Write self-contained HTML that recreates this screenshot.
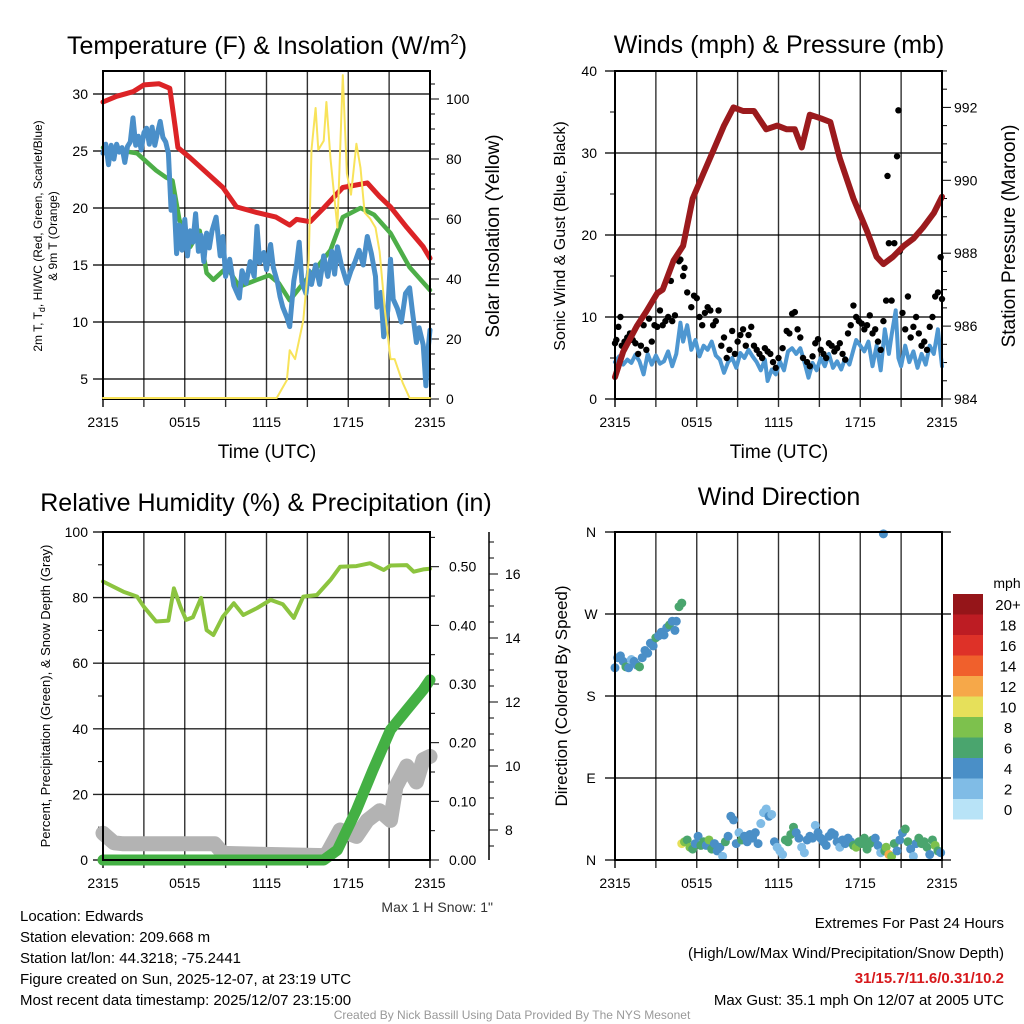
<!DOCTYPE html>
<html><head><meta charset="utf-8"><style>
html,body{margin:0;padding:0;background:#fff;}
svg{display:block;font-family:"Liberation Sans",sans-serif;}
</style></head><body>
<svg id="s" width="1024" height="1024" viewBox="0 0 1024 1024">
<rect width="1024" height="1024" fill="#fff"/>
<g id="g1"></g>
<g id="g2"></g>
<g id="g3"></g>
<g id="g4"></g>
<g font-size="15" fill="#000">
<text x="20" y="921">Location: Edwards</text>
<text x="20" y="942">Station elevation: 209.668 m</text>
<text x="20" y="963">Station lat/lon: 44.3218; -75.2441</text>
<text x="20" y="984">Figure created on Sun, 2025-12-07, at 23:19 UTC</text>
<text x="20" y="1005">Most recent data timestamp: 2025/12/07 23:15:00</text>
</g>
<g font-size="15" text-anchor="end">
<text x="1004" y="928">Extremes For Past 24 Hours</text>
<text x="1004" y="958">(High/Low/Max Wind/Precipitation/Snow Depth)</text>
<text x="1004" y="983" fill="#d7191c" font-weight="bold">31/15.7/11.6/0.31/10.2</text>
<text x="1004" y="1005">Max Gust: 35.1 mph On 12/07 at 2005 UTC</text>
</g>
<text x="512" y="1019" font-size="12" fill="#999" text-anchor="middle">Created By Nick Bassill Using Data Provided By The NYS Mesonet</text>
</svg>
<script>
// ---- Temperature panel data ----
const redH=[0,1,2.2,3,4.1,4.9,5.3,5.5,6.4,7.6,8.8,9.8,11.3,12.7,13.7,14.2,15.2,16.2,17.6,19.4,20.3,21.1,22.3,23.5,24];
const redV=[29.3,29.8,30.2,30.8,30.9,30.5,27.1,25.3,24.4,23.1,21.8,20.1,19.6,19.2,18.5,19.0,18.8,20.0,21.8,22.2,21.0,20.1,18.3,16.6,15.6];
const grnH=[0,2.5,3.9,4.6,5.1,5.6,6.4,7.1,7.6,8.1,9.1,10.0,11.3,12.2,12.9,13.7,14.7,15.7,16.7,17.6,18.9,19.9,21.1,22.5,24];
const grnV=[25.3,24.8,23.3,22.7,22.4,19.0,16.6,18.0,14.3,13.7,14.8,13.1,13.7,14.1,13.4,11.9,13.4,14.8,16.3,19.2,20.0,19.4,17.8,14.8,12.8];
const bluH=[0,0.2,0.4,0.6,0.8,1.0,1.2,1.4,1.6,1.8,2.0,2.2,2.4,2.6,2.8,3.0,3.2,3.4,3.6,3.8,4.0,4.2,4.4,4.6,4.8,5.0,5.2,5.4,5.6,5.8,6.0,6.2,6.4,6.6,6.8,7.0,7.2,7.4,7.6,7.8,8.0,8.3,8.6,8.8,9.0,9.3,9.6,10.0,10.2,10.5,10.8,11.1,11.3,11.5,11.8,12.0,12.3,12.5,12.8,13.0,13.2,13.5,13.7,14.0,14.2,14.4,14.6,14.9,15.1,15.3,15.6,15.9,16.2,16.5,16.8,17.0,17.2,17.5,17.9,18.2,18.5,18.8,19.1,19.4,19.7,20.0,20.1,20.4,20.6,20.9,21.1,21.3,21.6,21.9,22.2,22.5,22.7,23.0,23.2,23.5,23.7,23.85,24.0];
const bluV=[24.8,25.6,23.8,25.5,24.3,25.6,24.9,25.3,24.0,25.4,25.8,27.9,25.5,26.3,25.1,26.6,27.0,25.6,27.1,25.5,26.6,27.6,26.2,25.8,24.8,19.8,21.0,16.0,18.5,16.3,19.0,15.8,18.0,17.0,19.5,16.2,17.6,15.3,17.8,16.5,18.0,19.2,15.8,17.5,14.0,15.5,13.2,12.1,14.5,13.4,15.3,14.0,18.4,15.2,16.1,14.6,16.8,14.8,13.5,12.2,11.3,10.4,9.6,13.6,15.0,17.0,13.5,12.5,14.5,13.3,15.0,13.3,15.8,14.0,16.2,14.2,16.6,15.0,13.4,14.5,15.3,16.3,15.0,17.5,16.0,14.0,11.3,12.6,8.7,11.0,15.5,12.0,11.2,10.0,12.5,13.0,11.0,8.2,9.5,8.0,4.4,7.5,9.3];
const insH=[0,12.75,13.5,13.7,14.1,14.7,15.1,15.3,15.6,15.8,16.2,16.4,16.7,17.2,17.6,17.9,18.2,18.6,18.9,19.2,19.6,20.0,20.3,20.7,21.1,21.4,22.0,22.5,24];
const insV=[0,0,6,16,13,26,46,83,97,83,86,99,80,57,108,75,68,85,77,62,60,57,49,29,13,13,5,0,0];
const tempTicks=[5,10,15,20,25,30];
const insTicks=[0,20,40,60,80,100];
const timeLabels=["2315","0515","1115","1715","2315"];
// ---- Wind panel data ----
const presH=[0,0.6,1.6,2.3,3.1,3.5,4.3,5.0,5.7,6.5,7.2,8.0,8.7,9.4,10.2,11.1,11.9,12.6,13.2,13.7,14.3,15.1,15.8,16.5,17.5,18.5,19.2,19.7,20.4,21.2,21.9,22.6,23.4,24];
const presV=[984.6,985.3,986.0,986.4,986.9,987.0,987.8,988.2,989.5,990.2,990.8,991.5,992.0,991.9,991.9,991.4,991.5,991.4,991.4,990.9,991.8,991.7,991.6,990.6,989.5,988.6,987.9,987.7,987.9,988.2,988.4,988.7,989.1,989.55];
const sonH=[0,0.3,0.6,0.9,1.2,1.5,1.8,2.1,2.4,2.7,3.0,3.3,3.6,3.9,4.2,4.5,4.8,5.0,5.3,5.6,5.9,6.2,6.5,6.8,7.1,7.4,7.7,8.0,8.3,8.6,8.9,9.2,9.5,9.8,10.1,10.4,10.7,11.0,11.2,11.5,11.8,12.1,12.4,12.7,13.0,13.3,13.6,13.9,14.2,14.5,14.8,15.1,15.4,15.7,16.0,16.3,16.6,16.9,17.2,17.5,17.7,18.0,18.3,18.6,18.9,19.2,19.5,19.8,20.1,20.3,20.6,20.8,21.0,21.3,21.6,21.9,22.2,22.5,22.8,23.1,23.4,23.7,24.0];
const sonV=[4.5,5.2,4.2,4.8,4.4,5.4,4.6,3.0,5.5,4.2,5.3,4.3,4.6,5.8,4.0,5.5,9.3,7.0,9.0,6.0,7.2,5.2,6.5,6.0,7.0,5.3,4.8,3.2,4.5,5.0,3.8,5.6,5.0,6.0,5.2,4.5,3.5,4.8,2.2,3.6,3.0,4.6,3.5,5.8,6.2,5.5,6.2,4.5,2.6,4.4,3.5,5.0,4.0,5.5,3.8,4.6,3.6,5.0,4.2,6.0,7.2,6.5,5.8,7.0,4.0,6.5,3.5,8.5,5.5,7.8,10.8,5.0,4.0,6.5,4.5,5.8,3.8,5.5,4.2,6.5,5.5,8.5,4.0];
const gustH=[0,0.1,0.25,0.4,0.5,0.7,0.9,1.1,1.3,1.5,1.7,1.9,2.1,2.3,2.5,2.7,2.9,3.1,3.3,3.5,3.7,3.9,4.1,4.2,4.4,4.7,4.8,5.0,5.1,5.3,5.6,5.8,6.0,6.2,6.4,6.6,6.8,7.0,7.2,7.4,7.6,7.8,8.0,8.2,8.4,8.6,8.8,9.0,9.2,9.4,9.6,9.8,10.0,10.2,10.4,10.6,10.8,11.0,11.2,11.4,11.6,11.8,12.0,12.3,12.6,12.8,13.0,13.2,13.4,13.6,13.8,14.1,14.3,14.5,14.7,14.9,15.1,15.3,15.5,15.7,15.9,16.1,16.3,16.5,16.7,16.9,17.1,17.3,17.5,17.7,17.9,18.1,18.3,18.5,18.7,18.9,19.1,19.3,19.5,19.7,19.9,20.0,20.1,20.3,20.5,20.7,20.8,20.9,21.1,21.3,21.5,21.7,21.9,22.1,22.3,22.5,22.7,22.9,23.1,23.3,23.5,23.7,23.9,24.0];
const gustV=[6.8,7.2,8.8,10.0,6.5,7.0,7.5,8.0,7.2,6.8,5.5,6.5,9.0,6.0,9.8,7.0,9.0,8.8,10.8,9.0,9.5,10.0,14.4,9.5,10.2,16.8,17.0,15.0,16.0,13.0,11.2,12.6,12.3,10.0,9.0,10.5,11.2,10.8,9.0,9.5,10.8,6.5,7.5,5.0,6.0,8.3,5.5,7.0,7.8,8.5,6.5,7.8,8.8,6.5,6.0,5.5,5.0,6.2,5.8,5.5,4.5,3.8,5.0,6.2,8.3,8.0,10.4,10.6,8.5,7.5,5.0,4.5,4.0,5.2,6.8,7.3,6.0,5.5,5.0,6.8,6.5,5.8,6.2,6.8,5.5,4.8,8.0,9.0,11.4,10.0,9.5,9.2,8.5,9.0,10.2,8.0,8.5,7.0,6.0,9.5,12.0,27.2,19.0,12.0,19.0,29.6,35.2,18.0,10.5,8.5,12.5,7.5,8.8,10.0,8.0,6.5,7.0,6.0,8.8,10.0,12.5,13.0,17.3,12.2,9.8,6.8];
const windTicks=[0,10,20,30,40];
const presTicks=[984,986,988,990,992];
// ---- Humidity panel data ----
const rhH=[0,1.5,2.5,3.0,3.9,4.8,5.2,5.7,6.1,6.6,7.2,7.6,8.1,8.8,9.6,10.3,11.3,12.3,13.2,14.0,14.7,15.7,16.7,17.4,18.6,19.6,20.6,21.1,22.3,22.8,23.5,24];
const rhV=[84.9,81.8,80.3,77.2,72.7,73.0,82.8,77.0,73.2,74.0,79.9,70.1,68.6,74.2,78.3,74.7,76.8,79.3,78.0,73.8,80.3,80.8,85.4,89.4,89.6,90.5,88.4,89.8,89.9,87.9,88.6,88.8];
const prH=[0,16.2,17.2,18.6,19.8,21.1,22.3,23.5,24];
const prV=[0,0,0.017,0.085,0.153,0.222,0.256,0.29,0.307];
const snH=[0,0.8,1.5,8.2,8.8,16.2,16.5,17.4,18.6,19.4,20.3,21.1,21.5,22.3,23.0,23.5,24];
const snV=[7.9,7.6,7.57,7.57,7.27,7.2,7.3,8.0,7.8,8.3,8.6,8.3,9.35,10.0,9.5,10.2,10.3];
const rhTicks=[0,20,40,60,80,100];
const prTicks=["0.00","0.10","0.20","0.30","0.40","0.50"];
const snTicks=[8,10,12,14,16];
// ---- Direction panel data ----
const dirH=[0,0.2,0.4,0.6,0.8,1.0,1.2,1.4,1.6,1.8,2.0,2.2,2.4,2.6,2.8,3.0,3.2,3.4,3.6,3.8,4.0,4.2,4.4,4.5,4.7,4.9,4.9,5.1,5.3,5.5,5.7,5.9,6.1,6.3,6.5,6.7,6.9,7.1,7.3,7.5,7.7,7.9,8.1,8.3,8.5,8.7,8.9,9.1,9.3,9.5,9.7,9.9,10.1,10.3,10.5,10.7,10.9,11.1,11.3,11.5,11.7,11.9,12.1,12.3,12.5,12.7,12.9,13.1,13.3,13.5,13.7,13.9,14.1,14.3,14.5,14.7,14.9,15.1,15.3,15.5,15.7,15.9,16.1,16.3,16.5,16.7,16.9,17.1,17.3,17.5,17.7,17.9,18.1,18.3,18.5,18.7,18.9,19.1,19.3,19.5,19.7,19.8,19.9,20.1,20.3,20.5,20.7,20.9,21.1,21.3,21.5,21.7,21.9,22.1,22.3,22.5,22.7,22.9,23.1,23.3,23.5,23.7,23.9];
const dirDeg=[211,222,224,218,212,211,220,218,214,212,222,230,227,238,235,244,246,250,247,255,258,262,252,262,278,282,18,20,22,14,12,18,26,16,20,16,22,12,18,10,14,4,20,26,48,44,18,30,22,26,20,28,24,30,18,40,52,56,48,50,20,14,10,6,22,20,28,36,30,24,14,8,22,26,24,38,30,24,20,16,26,30,28,20,14,22,18,24,20,16,14,20,18,24,12,18,22,24,16,8,358,10,14,6,4,18,10,22,30,34,20,12,4,18,24,18,20,14,6,22,16,10,8];
const dirSpd=[4,4,5,4,7,4,3,4,4,7,4,5,4,5,4,6,4,5,4,5,7,4,5,4,6,7,10,8,7,8,6,5,4,7,6,5,8,6,4,5,4,2,6,4,4,4,4,3,7,5,4,5,4,5,4,3,2,3,4,3,4,2,2,2,7,7,6,7,4,5,3,2,5,4,4,3,4,4,5,4,4,4,4,4,3,4,4,4,4,6,8,7,6,7,6,6,7,5,4,3,5,6,9,12,8,7,4,5,4,6,7,4,3,4,6,6,7,6,4,7,8,6,4];
const cbLabels=["20+","18","16","14","12","10","8","6","4","2","0"];
const cbColors=["#951519","#bd1c23","#de3128","#f0602c","#f6a849","#e6e05a","#7dc14d","#4aa56e","#4a8fc7","#80bce6","#b8e3f7"];

const NS="http://www.w3.org/2000/svg";
function mk(parent,tag,attrs){const e=document.createElementNS(NS,tag);for(const k in attrs)e.setAttribute(k,attrs[k]);parent.appendChild(e);return e;}
function txt(parent,x,y,s,size,anchor,extra){const e=mk(parent,"text",Object.assign({x:x,y:y,"font-size":size,"text-anchor":anchor||"start"},extra||{}));e.textContent=s;return e;}
function rtxt(parent,x,y,s,size){const e=mk(parent,"text",{x:0,y:0,"font-size":size,"text-anchor":"middle",transform:"translate("+x+","+y+") rotate(-90)"});e.textContent=s;return e;}

function frame(g,L,R,T,B){
  const xs=t=>L+t/24*(R-L);
  for(let i=1;i<8;i++){const l=mk(g,"line",{x1:xs(i*3),x2:xs(i*3),y1:T,y2:B+8,stroke:"#000","stroke-width":1.4,opacity:0.8});
    }
  for(let i=0;i<5;i++){const x=xs(i*6);const lb=txt(g,x,B+28,timeLabels[i],14,"middle");
    }
  mk(g,"line",{x1:L,x2:L,y1:T,y2:B+8,stroke:"#000","stroke-width":1.4});
  mk(g,"line",{x1:R,x2:R,y1:T,y2:B+8,stroke:"#000","stroke-width":1.4});
  return xs;
}
function poly(g,H,V,xs,ys,color,w,name){
  let d="";for(let i=0;i<H.length;i++)d+=(i?"L":"M")+xs(H[i]).toFixed(1)+","+ys(V[i]).toFixed(1);
  const p=mk(g,"path",{d:d,fill:"none",stroke:color,"stroke-width":w,"stroke-linejoin":"round","stroke-linecap":"round"});
  return p;
}
function border(g,L,R,T,B){const r=mk(g,"rect",{x:L,y:T,width:R-L,height:B-T,fill:"none",stroke:"#000","stroke-width":2});
  }

// Panel 1
(function(){
  const g=document.getElementById("g1");const L=103,R=430,T=71,B=399;
  const xs=frame(g,L,R,T,B);
  const ys=t=>379-(t-5)*11.4;const yi=v=>398-v*2.99;
  tempTicks.forEach(t=>{mk(g,"line",{x1:L-10,x2:R,y1:ys(t),y2:ys(t),stroke:"#000","stroke-width":1.4,opacity:0.85});
    const lb=txt(g,L-15,ys(t)+5,String(t),14,"end");});
  for(let v=0;v<=105;v+=5){mk(g,"line",{x1:R,x2:R+(v%20?5:9),y1:399-v*3,y2:399-v*3,stroke:"#000","stroke-width":1});}
  insTicks.forEach(v=>{const lb=txt(g,R+16,399-v*3+5,String(v),14,"start");});
  poly(g,grnH,grnV,xs,ys,"#4dae48",4.5,"dewpoint-line");
  poly(g,bluH,bluV,xs,ys,"#4a8fc9",5,"windchill-line");
  poly(g,redH,redV,xs,ys,"#dc2326",5,"temperature-line");
  border(g,L,R,T,B);
  poly(g,insH,insV,xs,yi,"#f8e35a",2,"insolation-line");
  const t=txt(g,267,54,"Temperature (F) & Insolation (W/m",25,"middle");
  const sp=mk(t,"tspan",{dy:-10,"font-size":15});sp.textContent="2";const sp2=mk(t,"tspan",{dy:10});sp2.textContent=")";
  const xt=txt(g,267,458,"Time (UTC)",19,"middle");
  const a=rtxt(g,42,236,"2m T, T",12);
  const s1=mk(a,"tspan",{"font-size":9,dy:3});s1.textContent="d";const s2=mk(a,"tspan",{dy:-3});s2.textContent=", HI/WC (Red, Green, Scarlet/Blue)";
  const a2=rtxt(g,57,236,"& 9m T (Orange)",12);
  const rt=rtxt(g,499,236,"Solar Insolation (Yellow)",19);
})();

// Panel 2
(function(){
  const g=document.getElementById("g2");const L=615,R=942,T=71,B=399;
  const xs=frame(g,L,R,T,B);
  const yw=v=>399-v*8.2;const yp=p=>399-(p-984)*36.45;
  windTicks.forEach(t=>{mk(g,"line",{x1:L-10,x2:R,y1:yw(t),y2:yw(t),stroke:"#000","stroke-width":1.4,opacity:0.85});
    const lb=txt(g,L-18,yw(t)+5,String(t),14,"end");});
  for(let v=5;v<40;v+=10)mk(g,"line",{x1:L-5,x2:L,y1:yw(v),y2:yw(v),stroke:"#000"});
  for(let p=984;p<=993;p+=0.5)mk(g,"line",{x1:R,x2:R+(p%2?5:9),y1:yp(p),y2:yp(p),stroke:"#000"});
  presTicks.forEach(p=>{const lb=txt(g,R+12,yp(p)+5,String(p),14,"start");});
  poly(g,sonH,sonV,xs,yw,"#4e97d1",4,"sonic-wind-line");
  for(let i=0;i<gustH.length;i++){const c=mk(g,"circle",{cx:xs(gustH[i]),cy:yw(gustV[i]),r:3.2,fill:"#000"});
    }
  poly(g,presH,presV,xs,yp,"#9b1a1d",6,"pressure-line");
  border(g,L,R,T,B);
  const t=txt(g,779,53,"Winds (mph) & Pressure (mb)",25,"middle");
  const xt=txt(g,779,458,"Time (UTC)",19,"middle");
  const a=rtxt(g,565,236,"Sonic Wind & Gust (Blue, Black)",16);
  const rt=rtxt(g,1015,236,"Station Pressure (Maroon)",19);
})();

// Panel 3
(function(){
  const g=document.getElementById("g3");const L=103,R=430,T=532,B=860;
  const xs=frame(g,L,R,T,B);
  const yr=v=>860-v*3.28;const ypr=v=>860-v*586.6;const ysn=v=>830-(v-8)*32;
  rhTicks.forEach(t=>{mk(g,"line",{x1:L-10,x2:R,y1:yr(t),y2:yr(t),stroke:"#000","stroke-width":1.4,opacity:0.85});
    const lb=txt(g,L-15,yr(t)+5,String(t),14,"end");});
  for(let v=10;v<100;v+=20)mk(g,"line",{x1:L-5,x2:L,y1:yr(v),y2:yr(v),stroke:"#000"});
  for(let k=0;k<=11;k++){const v=k*0.05;mk(g,"line",{x1:R,x2:R+(k%2?5:9),y1:ypr(v),y2:ypr(v),stroke:"#000"});}
  prTicks.forEach(s=>{const lb=txt(g,R+19,ypr(parseFloat(s))+5,s,14,"start");});
  mk(g,"line",{x1:489,x2:489,y1:T,y2:B,stroke:"#000","stroke-width":1.5});
  for(let v=7.5;v<=17;v+=0.5)mk(g,"line",{x1:489,x2:489+(v%2?5:9),y1:ysn(v),y2:ysn(v),stroke:"#000"});
  snTicks.forEach(v=>{const lb=txt(g,505,ysn(v)+5,String(v),14,"start");});
  poly(g,rhH,rhV,xs,yr,"#8cc43f",4,"humidity-line");
  poly(g,snH,snV,xs,ysn,"#b3b3b3",15,"snow-depth-line");
  poly(g,prH,prV,xs,ypr,"#44b044",11,"precipitation-line");
  border(g,L,R,T,B);
  const t=txt(g,266,511,"Relative Humidity (%) & Precipitation (in)",25,"middle");
  const a=rtxt(g,50,696,"Percent, Precipitation (Green), & Snow Depth (Gray)",13);
  const m=txt(g,493,912,"Max 1 H Snow: 1\"",14,"end",{fill:"#333"});
})();

// Panel 4
(function(){
  const g=document.getElementById("g4");const L=615,R=942,T=532,B=860;
  const xs=frame(g,L,R,T,B);
  const yd=d=>860-d*328/360;
  ["N","E","S","W","N"].forEach((s,i)=>{const y=yd(i*90);mk(g,"line",{x1:L-10,x2:R+9,y1:y,y2:y,stroke:"#000","stroke-width":1.4,opacity:0.85});
    const lb=txt(g,591,y+5,s,14,"middle");});
  const binCol=s=>cbColors[10-Math.max(0,Math.min(10,Math.floor(s/2)))];
  for(let i=0;i<dirH.length;i++){const c=mk(g,"circle",{cx:xs(dirH[i]),cy:yd(dirDeg[i]),r:4.5,fill:binCol(dirSpd[i])});
    }
  border(g,L,R,T,B);
  cbColors.forEach((c,i)=>{const r=mk(g,"rect",{x:953,y:594+i*20.5,width:30,height:20.5,fill:c});
    
    const lb=txt(g,1008,594+i*20.5+16,cbLabels[i],15,"middle");});
  const u=txt(g,1007,588,"mph",14,"middle");
  const t=txt(g,779,505,"Wind Direction",25,"middle");
  const a=rtxt(g,567,696,"Direction (Colored By Speed)",17);
})();
</script>
</body></html>
